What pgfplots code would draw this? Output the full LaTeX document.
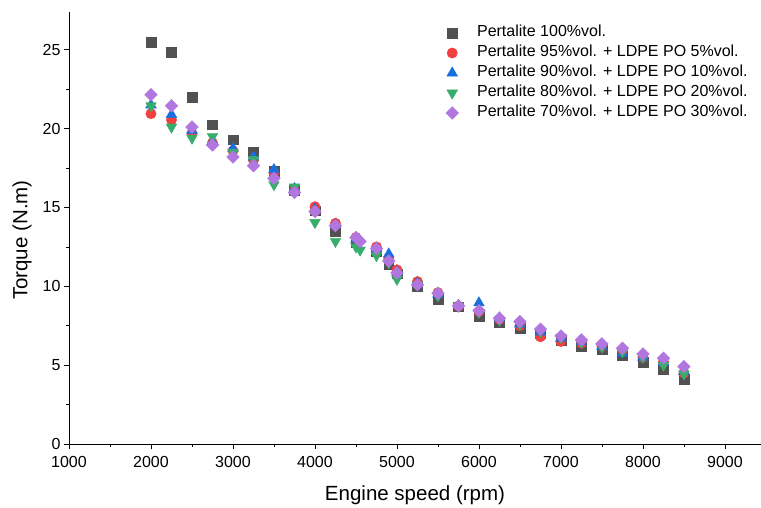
\documentclass[border=0pt]{standalone}
\usepackage{pgfplots}
\pgfplotsset{compat=1.18}
\usepackage{fontspec}
\setmainfont{Liberation Sans}
\definecolor{cA}{HTML}{515151}
\definecolor{cB}{HTML}{F14040}
\definecolor{cC}{HTML}{1A6FDF}
\definecolor{cD}{HTML}{37AD6B}
\definecolor{cE}{HTML}{B177DE}
\begin{document}
\begin{tikzpicture}
\begin{axis}[
  scale only axis, width=692pt, height=432pt,
  xmin=1000, xmax=9440, ymin=0, ymax=27.4,
  axis lines*=left,
  axis line style={line width=0.9pt},
  xtick={1000,2000,...,9000}, ytick={0,5,...,25},
  minor x tick num=1, minor y tick num=1,
  tick align=outside,
  major tick length=5pt, minor tick length=3pt,
  tick style={line width=0.8pt, black},
  /pgf/number format/assume math mode=true,
  /pgf/number format/1000 sep={},
  tick label style={font=\fontsize{16}{19}\selectfont},
  xticklabel style={yshift=-4pt},
  xlabel={Engine speed (rpm)}, ylabel={Torque (N.m)},
  label style={font=\fontsize{20.5}{24}\selectfont},
  xlabel style={at={(axis description cs:0.5,0)}, anchor=center, yshift=-51pt},
  ylabel style={at={(axis description cs:0,0.472)}, anchor=center, rotate=0, yshift=47pt},
  legend cell align=left,
  legend style={draw=none, fill=none, anchor=north west, at={(0.54,0.979)},
    font=\fontsize{16}{18}\selectfont, row sep=0.5pt,
    nodes={text height=11pt, text depth=3.5pt, inner sep=2.5pt},
    /tikz/every odd column/.append style={column sep=16pt}},
  clip=false,
]
\addplot[only marks, mark=square*, mark size=4.8pt, draw=cA, fill=cA] coordinates {
(2000,25.5)(2250,24.85)(2500,22.0)(2750,20.25)(3000,19.3)(3250,18.5)(3500,17.3)(3750,16.1)(4000,14.8)(4250,13.5)(4500,12.8)(4750,12.2)(4900,11.4)(5000,10.8)(5250,10.0)(5500,9.2)(5750,8.7)(6000,8.1)(6250,7.7)(6500,7.35)(6750,7.0)(7000,6.6)(7250,6.2)(7500,6.0)(7750,5.6)(8000,5.2)(8250,4.75)(8500,4.1)};
\addlegendentry{Pertalite 100\%vol.}
\addplot[only marks, mark=*, mark size=5.2pt, draw=cB, fill=cB] coordinates {
(2000,20.95)(2250,20.55)(2500,19.7)(2750,19.1)(3000,18.6)(3250,18.0)(3500,17.2)(3750,16.1)(4000,15.05)(4250,14.0)(4500,13.1)(4750,12.5)(4900,11.8)(5000,11.05)(5250,10.3)(5500,9.6)(5750,8.75)(6000,8.4)(6250,7.9)(6500,7.5)(6750,6.8)(7000,6.5)(7250,6.4)(7500,6.2)(7750,5.9)(8000,5.5)(8250,5.2)(8500,4.5)};
\addlegendentry{Pertalite 95\%vol. + LDPE PO 5\%vol.}
\addplot[only marks, mark=triangle*, mark size=6.2pt, draw=cC, fill=cC] coordinates {
(2000,21.5)(2250,20.9)(2500,19.9)(2750,19.2)(3000,18.75)(3250,18.2)(3500,17.4)(3750,16.2)(4000,14.9)(4250,13.9)(4500,13.0)(4750,12.4)(4900,12.05)(5000,10.9)(5250,10.2)(5500,9.5)(5750,8.8)(6000,8.95)(6250,8.0)(6500,7.6)(6750,7.1)(7000,6.7)(7250,6.5)(7500,6.2)(7750,5.75)(8000,5.5)(8250,5.2)(8500,4.6)};
\addlegendentry{Pertalite 90\%vol. + LDPE PO 10\%vol.}
\addplot[only marks, mark=triangle*, mark size=6.2pt, mark options={rotate=180}, draw=cD, fill=cD] coordinates {
(2000,21.45)(2250,20.1)(2500,19.4)(2750,19.5)(3000,18.5)(3250,18.05)(3500,16.45)(3750,16.3)(4000,14.05)(4250,12.85)(4500,12.5)(4550,12.3)(4750,11.95)(4900,11.5)(5000,10.45)(5250,10.1)(5500,9.4)(5750,8.75)(6000,8.35)(6250,7.85)(6500,7.6)(6750,7.15)(7000,6.75)(7250,6.45)(7500,6.15)(7750,5.85)(8000,5.5)(8250,5.0)(8500,4.45)};
\addlegendentry{Pertalite 80\%vol. + LDPE PO 20\%vol.}
\addplot[only marks, mark=square*, mark size=4.5pt, mark options={rotate=45}, draw=cE, fill=cE] coordinates {
(2000,22.15)(2250,21.45)(2500,20.1)(2750,18.97)(3000,18.2)(3250,17.65)(3500,16.85)(3750,15.95)(4000,14.75)(4250,13.85)(4500,13.1)(4550,12.85)(4750,12.4)(4900,11.6)(5000,10.85)(5250,10.1)(5500,9.56)(5750,8.75)(6000,8.45)(6250,7.97)(6500,7.76)(6750,7.28)(7000,6.85)(7250,6.6)(7500,6.35)(7750,6.07)(8000,5.71)(8250,5.44)(8500,4.91)};
\addlegendentry{Pertalite 70\%vol. + LDPE PO 30\%vol.}
\end{axis}
\pgfresetboundingbox
\useasboundingbox (-69pt,-64pt) rectangle (692pt,444pt);
\end{tikzpicture}
\end{document}
